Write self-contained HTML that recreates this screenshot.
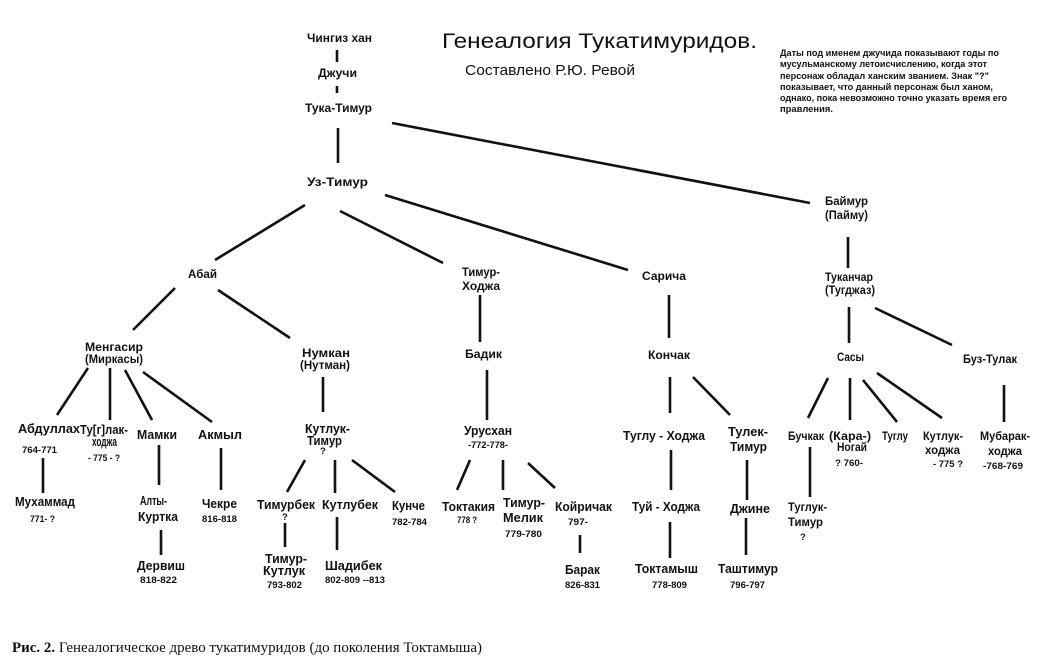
<!DOCTYPE html>
<html><head><meta charset="utf-8"><style>
html,body{margin:0;padding:0;background:#fff;}
svg{display:block;}
text{font-family:"Liberation Sans","DejaVu Sans",sans-serif;fill:#111;}
.b{font-weight:bold;font-size:12px;}
.m{font-weight:bold;font-size:13px;}
.d{font-weight:bold;font-size:9.5px;}
.n{font-weight:bold;font-size:9px;}
line{stroke:#111;stroke-width:2.6;stroke-linecap:butt;}
.s{font-family:"Liberation Serif","DejaVu Serif",serif;font-size:15px;}
</style></head><body>
<svg width="1041" height="672" viewBox="0 0 1041 672" xmlns="http://www.w3.org/2000/svg">
<rect width="1041" height="672" fill="#fff"/>
<!-- lines -->
<line x1="337" y1="50" x2="337" y2="62"/>
<line x1="337" y1="86" x2="337" y2="93"/>
<line x1="338" y1="128" x2="338" y2="163"/>
<line x1="392" y1="123" x2="810" y2="203"/>
<line x1="305" y1="205" x2="215" y2="260"/>
<line x1="340" y1="211" x2="443" y2="263"/>
<line x1="385" y1="195" x2="628" y2="270"/>
<line x1="175" y1="288" x2="133" y2="330"/>
<line x1="218" y1="290" x2="290" y2="338"/>
<line x1="88" y1="368" x2="57" y2="415"/>
<line x1="110" y1="368" x2="110" y2="420"/>
<line x1="125" y1="370" x2="152" y2="420"/>
<line x1="143" y1="372" x2="212" y2="422"/>
<line x1="323" y1="377" x2="323" y2="412"/>
<line x1="480" y1="295" x2="480" y2="342"/>
<line x1="487" y1="370" x2="487" y2="420"/>
<line x1="669" y1="295" x2="669" y2="338"/>
<line x1="670" y1="377" x2="670" y2="413"/>
<line x1="693" y1="377" x2="730" y2="415"/>
<line x1="848" y1="237" x2="848" y2="268"/>
<line x1="849" y1="307" x2="849" y2="343"/>
<line x1="875" y1="308" x2="952" y2="345"/>
<line x1="828" y1="378" x2="808" y2="418"/>
<line x1="850" y1="378" x2="850" y2="420"/>
<line x1="863" y1="380" x2="897" y2="422"/>
<line x1="877" y1="373" x2="942" y2="418"/>
<line x1="1004" y1="385" x2="1004" y2="422"/>
<line x1="43" y1="458" x2="43" y2="493"/>
<line x1="159" y1="445" x2="159" y2="485"/>
<line x1="161" y1="530" x2="161" y2="555"/>
<line x1="221" y1="448" x2="221" y2="490"/>
<line x1="305" y1="460" x2="287" y2="492"/>
<line x1="335" y1="460" x2="335" y2="493"/>
<line x1="352" y1="460" x2="395" y2="492"/>
<line x1="285" y1="523" x2="285" y2="547"/>
<line x1="337" y1="517" x2="337" y2="550"/>
<line x1="470" y1="460" x2="457" y2="490"/>
<line x1="503" y1="460" x2="503" y2="490"/>
<line x1="528" y1="463" x2="555" y2="488"/>
<line x1="580" y1="535" x2="580" y2="553"/>
<line x1="671" y1="450" x2="671" y2="490"/>
<line x1="747" y1="460" x2="747" y2="500"/>
<line x1="670" y1="522" x2="670" y2="558"/>
<line x1="746" y1="518" x2="746" y2="555"/>
<line x1="810" y1="447" x2="810" y2="497"/>

<!-- titles -->
<text x="442" y="48" font-size="21" textLength="315" lengthAdjust="spacingAndGlyphs">Генеалогия Тукатимуридов.</text>
<text x="465" y="75" font-size="15" textLength="170" lengthAdjust="spacingAndGlyphs">Составлено Р.Ю. Ревой</text>

<text class="n" x="780" y="56" textLength="219" lengthAdjust="spacingAndGlyphs">Даты под именем джучида показывают годы по</text>
<text class="n" x="780" y="67" textLength="207" lengthAdjust="spacingAndGlyphs">мусульманскому летоисчислению, когда этот</text>
<text class="n" x="780" y="79" textLength="209" lengthAdjust="spacingAndGlyphs">персонаж обладал ханским званием. Знак "?"</text>
<text class="n" x="780" y="90" textLength="213" lengthAdjust="spacingAndGlyphs">показывает, что данный персонаж был ханом,</text>
<text class="n" x="780" y="101" textLength="227" lengthAdjust="spacingAndGlyphs">однако, пока невозможно точно указать время его</text>
<text class="n" x="780" y="112" textLength="53" lengthAdjust="spacingAndGlyphs">правления.</text>

<!-- top chain -->
<text class="b" x="307" y="42" textLength="65" lengthAdjust="spacingAndGlyphs">Чингиз хан</text>
<text class="b" x="318" y="77" textLength="39" lengthAdjust="spacingAndGlyphs">Джучи</text>
<text class="b" x="305" y="112" textLength="67" lengthAdjust="spacingAndGlyphs">Тука-Тимур</text>
<text class="b" x="307" y="186" textLength="61" lengthAdjust="spacingAndGlyphs">Уз-Тимур</text>

<text class="b" x="188" y="278" textLength="29" lengthAdjust="spacingAndGlyphs">Абай</text>
<text class="b" x="462" y="276" textLength="38" lengthAdjust="spacingAndGlyphs">Тимур-</text>
<text class="b" x="462" y="290" textLength="38" lengthAdjust="spacingAndGlyphs">Ходжа</text>
<text class="b" x="642" y="280" textLength="44" lengthAdjust="spacingAndGlyphs">Сарича</text>
<text class="b" x="825" y="205" textLength="43" lengthAdjust="spacingAndGlyphs">Баймур</text>
<text class="b" x="825" y="219" textLength="43" lengthAdjust="spacingAndGlyphs">(Пайму)</text>

<text class="b" x="85" y="351" textLength="58" lengthAdjust="spacingAndGlyphs">Менгасир</text>
<text class="b" x="85" y="363" textLength="58" lengthAdjust="spacingAndGlyphs">(Миркасы)</text>
<text class="b" x="302" y="357" textLength="48" lengthAdjust="spacingAndGlyphs">Нумкан</text>
<text class="b" x="300" y="369" textLength="50" lengthAdjust="spacingAndGlyphs">(Нутман)</text>
<text class="b" x="465" y="358" textLength="37" lengthAdjust="spacingAndGlyphs">Бадик</text>
<text class="b" x="648" y="359" textLength="42" lengthAdjust="spacingAndGlyphs">Кончак</text>
<text class="b" x="825" y="281" textLength="48" lengthAdjust="spacingAndGlyphs">Туканчар</text>
<text class="b" x="825" y="294" textLength="50" lengthAdjust="spacingAndGlyphs">(Тугджаз)</text>
<text class="b" x="837" y="361" textLength="27" lengthAdjust="spacingAndGlyphs">Сасы</text>
<text class="b" x="963" y="363" textLength="54" lengthAdjust="spacingAndGlyphs">Буз-Тулак</text>

<!-- row 4 -->
<text class="m" x="18" y="433" textLength="62" lengthAdjust="spacingAndGlyphs">Абдуллах</text>
<text class="d" x="22" y="453" textLength="35" lengthAdjust="spacingAndGlyphs">764-771</text>
<text class="m" x="80" y="434" textLength="48" lengthAdjust="spacingAndGlyphs">Ту[г]лак-</text>
<text class="m" x="92" y="446" textLength="25" lengthAdjust="spacingAndGlyphs">ходжа</text>
<text class="d" x="88" y="461" textLength="32" lengthAdjust="spacingAndGlyphs">- 775 - ?</text>
<text class="m" x="137" y="439" textLength="40" lengthAdjust="spacingAndGlyphs">Мамки</text>
<text class="m" x="198" y="439" textLength="44" lengthAdjust="spacingAndGlyphs">Акмыл</text>
<text class="m" x="305" y="433" textLength="45" lengthAdjust="spacingAndGlyphs">Кутлук-</text>
<text class="m" x="307" y="445" textLength="35" lengthAdjust="spacingAndGlyphs">Тимур</text>
<text class="d" x="320" y="454">?</text>
<text class="m" x="464" y="435" textLength="48" lengthAdjust="spacingAndGlyphs">Урусхан</text>
<text class="d" x="468" y="448" textLength="40" lengthAdjust="spacingAndGlyphs">-772-778-</text>
<text class="m" x="623" y="440" textLength="82" lengthAdjust="spacingAndGlyphs">Туглу - Ходжа</text>
<text class="m" x="728" y="436" textLength="40" lengthAdjust="spacingAndGlyphs">Тулек-</text>
<text class="m" x="730" y="451" textLength="37" lengthAdjust="spacingAndGlyphs">Тимур</text>
<text class="b" x="788" y="440" textLength="36" lengthAdjust="spacingAndGlyphs">Бучкак</text>
<text class="b" x="829" y="440" textLength="42" lengthAdjust="spacingAndGlyphs">(Кара-)</text>
<text class="b" x="837" y="451" textLength="30" lengthAdjust="spacingAndGlyphs">Ногай</text>
<text class="d" x="835" y="466" textLength="28" lengthAdjust="spacingAndGlyphs">? 760-</text>
<text class="b" x="882" y="440" textLength="26" lengthAdjust="spacingAndGlyphs">Туглу</text>
<text class="b" x="923" y="440" textLength="40" lengthAdjust="spacingAndGlyphs">Кутлук-</text>
<text class="b" x="925" y="454" textLength="35" lengthAdjust="spacingAndGlyphs">ходжа</text>
<text class="d" x="933" y="467" textLength="30" lengthAdjust="spacingAndGlyphs">- 775 ?</text>
<text class="b" x="980" y="440" textLength="50" lengthAdjust="spacingAndGlyphs">Мубарак-</text>
<text class="b" x="988" y="455" textLength="34" lengthAdjust="spacingAndGlyphs">ходжа</text>
<text class="d" x="983" y="469" textLength="40" lengthAdjust="spacingAndGlyphs">-768-769</text>

<!-- row 5 -->
<text class="m" x="15" y="506" textLength="60" lengthAdjust="spacingAndGlyphs">Мухаммад</text>
<text class="d" x="30" y="522" textLength="25" lengthAdjust="spacingAndGlyphs">771- ?</text>
<text class="m" x="140" y="505" textLength="27" lengthAdjust="spacingAndGlyphs">Алты-</text>
<text class="m" x="138" y="521" textLength="40" lengthAdjust="spacingAndGlyphs">Куртка</text>
<text class="m" x="202" y="508" textLength="35" lengthAdjust="spacingAndGlyphs">Чекре</text>
<text class="d" x="202" y="522" textLength="35" lengthAdjust="spacingAndGlyphs">816-818</text>
<text class="m" x="257" y="509" textLength="58" lengthAdjust="spacingAndGlyphs">Тимурбек</text>
<text class="d" x="282" y="520">?</text>
<text class="m" x="322" y="509" textLength="56" lengthAdjust="spacingAndGlyphs">Кутлубек</text>
<text class="m" x="392" y="510" textLength="33" lengthAdjust="spacingAndGlyphs">Кунче</text>
<text class="d" x="392" y="525" textLength="35" lengthAdjust="spacingAndGlyphs">782-784</text>
<text class="m" x="442" y="511" textLength="53" lengthAdjust="spacingAndGlyphs">Токтакия</text>
<text class="d" x="457" y="523" textLength="20" lengthAdjust="spacingAndGlyphs">778 ?</text>
<text class="m" x="503" y="507" textLength="42" lengthAdjust="spacingAndGlyphs">Тимур-</text>
<text class="m" x="503" y="522" textLength="40" lengthAdjust="spacingAndGlyphs">Мелик</text>
<text class="d" x="505" y="537" textLength="37" lengthAdjust="spacingAndGlyphs">779-780</text>
<text class="m" x="555" y="511" textLength="57" lengthAdjust="spacingAndGlyphs">Койричак</text>
<text class="d" x="568" y="525" textLength="20" lengthAdjust="spacingAndGlyphs">797-</text>
<text class="m" x="632" y="511" textLength="68" lengthAdjust="spacingAndGlyphs">Туй - Ходжа</text>
<text class="m" x="730" y="513" textLength="40" lengthAdjust="spacingAndGlyphs">Джине</text>
<text class="b" x="788" y="511" textLength="39" lengthAdjust="spacingAndGlyphs">Туглук-</text>
<text class="b" x="788" y="526" textLength="35" lengthAdjust="spacingAndGlyphs">Тимур</text>
<text class="d" x="800" y="540">?</text>

<!-- row 6 -->
<text class="m" x="137" y="570" textLength="48" lengthAdjust="spacingAndGlyphs">Дервиш</text>
<text class="d" x="140" y="583" textLength="37" lengthAdjust="spacingAndGlyphs">818-822</text>
<text class="m" x="265" y="563" textLength="42" lengthAdjust="spacingAndGlyphs">Тимур-</text>
<text class="m" x="263" y="575" textLength="42" lengthAdjust="spacingAndGlyphs">Кутлук</text>
<text class="d" x="267" y="588" textLength="35" lengthAdjust="spacingAndGlyphs">793-802</text>
<text class="m" x="325" y="570" textLength="57" lengthAdjust="spacingAndGlyphs">Шадибек</text>
<text class="d" x="325" y="583" textLength="60" lengthAdjust="spacingAndGlyphs">802-809 --813</text>
<text class="m" x="565" y="574" textLength="35" lengthAdjust="spacingAndGlyphs">Барак</text>
<text class="d" x="565" y="588" textLength="35" lengthAdjust="spacingAndGlyphs">826-831</text>
<text class="m" x="635" y="573" textLength="63" lengthAdjust="spacingAndGlyphs">Токтамыш</text>
<text class="d" x="652" y="588" textLength="35" lengthAdjust="spacingAndGlyphs">778-809</text>
<text class="m" x="718" y="573" textLength="60" lengthAdjust="spacingAndGlyphs">Таштимур</text>
<text class="d" x="730" y="588" textLength="35" lengthAdjust="spacingAndGlyphs">796-797</text>

<!-- caption -->
<text class="s" x="12" y="652" textLength="470" lengthAdjust="spacingAndGlyphs"><tspan font-weight="bold">Рис. 2.</tspan> Генеалогическое древо тукатимуридов (до поколения Токтамыша)</text>
</svg>
</body></html>
